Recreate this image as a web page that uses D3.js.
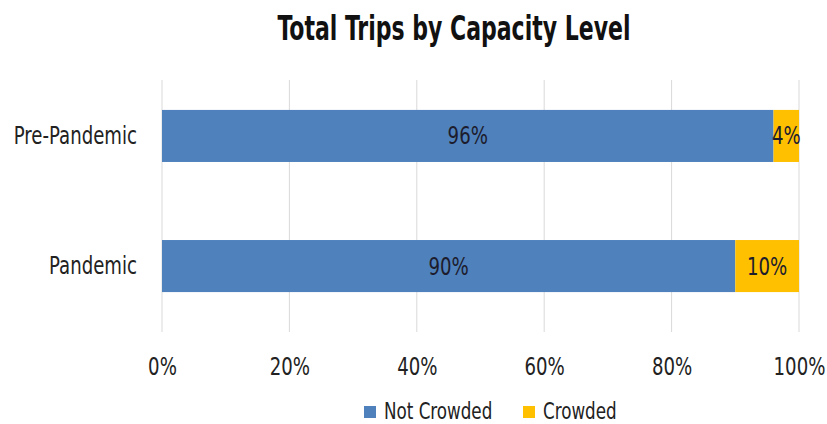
<!DOCTYPE html>
<html>
<head>
<meta charset="utf-8">
<script src="https://cdn.jsdelivr.net/npm/d3@7"></script>
<style>
  html, body { margin: 0; padding: 0; background: #fff; }
  svg text { font-family: "DejaVu Sans Condensed", "Liberation Sans Narrow", sans-serif; }
</style>
</head>
<body>
<svg id="chart" width="827" height="424"></svg>
<script>
// Share of trips by crowding level for each period
const categories = ["Pre-Pandemic", "Pandemic"];
const seriesNames = ["Not Crowded", "Crowded"];
const notCrowded = [96, 90];
const crowded = [4, 10];
const tickValues = [0, 20, 40, 60, 80, 100];
const colors = ["#4f81bd", "#ffc000"];

const W = 827, H = 424;
const FS = 24;          // label font size
const SX = 0.84;        // horizontal squeeze for a narrow look
const textColor = "#222";

const svg = d3.select("#chart");

const x = d3.scaleLinear().domain([0, 100]).range([162, 799]);
const y = d3.scaleBand().domain(categories).range([80, 322]).paddingInner(0.6).paddingOuter(0.23);
const gridTop = 80, gridBottom = 332;

// place a squeezed text at (px, py)
function squeezed(sel, px, py, s) {
  return sel.attr("x", 0).attr("y", 0).attr("transform", `translate(${px},${py}) scale(${s},1)`);
}

// Title
squeezed(svg.append("text"), 454, 40, 0.72)
  .attr("text-anchor", "middle")
  .attr("font-size", 34).attr("font-weight", "bold")
  .attr("fill", "#111")
  .text("Total Trips by Capacity Level");

// Vertical gridlines
svg.append("g").selectAll("line").data(tickValues).join("line")
  .attr("x1", d => x(d)).attr("x2", d => x(d))
  .attr("y1", gridTop).attr("y2", gridBottom)
  .attr("stroke", "#d9d9d9").attr("stroke-width", 1);

// X axis tick labels
const xAxis = d3.axisBottom(x).tickValues(tickValues).tickFormat(d => d + "%").tickSize(0).tickPadding(0);
const gx = svg.append("g").attr("transform", `translate(0,${gridBottom})`).call(xAxis);
gx.select(".domain").remove();
gx.selectAll("text")
  .attr("font-size", FS).attr("fill", textColor)
  .attr("font-family", null)
  .attr("y", 43).attr("dy", null)
  .attr("transform", `scale(${SX},1)`);

// Y axis category labels
const yPad = 25;
const yAxis = d3.axisLeft(y).tickSize(0).tickPadding(yPad);
const gy = svg.append("g").attr("transform", `translate(${x(0)},0)`).call(yAxis);
gy.select(".domain").remove();
gy.selectAll("text")
  .attr("font-size", FS).attr("fill", textColor)
  .attr("font-family", null)
  .attr("x", -yPad / SX)
  .attr("transform", `scale(${SX},1)`);

// Stacked bars
const rows = categories.map((c, i) => ({ cat: c, "Not Crowded": notCrowded[i], "Crowded": crowded[i] }));
const stacked = d3.stack().keys(seriesNames)(rows);

const layers = svg.append("g").selectAll("g").data(stacked).join("g")
  .attr("fill", (d, i) => colors[i]);

layers.selectAll("rect").data(d => d.map(v => ({ v, key: d.key }))).join("rect")
  .attr("x", d => x(d.v[0]))
  .attr("width", d => x(d.v[1]) - x(d.v[0]))
  .attr("y", d => y(d.v.data.cat))
  .attr("height", y.bandwidth());

// Value labels centered on each segment
layers.selectAll("text").data(d => d.map(v => ({ v, key: d.key }))).join("text")
  .each(function (d) {
    squeezed(d3.select(this),
      (x(d.v[0]) + x(d.v[1])) / 2,
      y(d.v.data.cat) + y.bandwidth() / 2 + 8.5, SX);
  })
  .attr("text-anchor", "middle")
  .attr("font-size", FS)
  .attr("fill", "#1c1c2c")
  .text(d => (d.v[1] - d.v[0]) + "%");

// Legend
const legendItems = [{ name: seriesNames[0], x0: 364 }, { name: seriesNames[1], x0: 523 }];
legendItems.forEach((it, i) => {
  svg.append("rect").attr("x", it.x0).attr("y", 406).attr("width", 12).attr("height", 12).attr("fill", colors[i]);
  squeezed(svg.append("text"), it.x0 + 20, 418.5, 0.81)
    .attr("font-size", 23).attr("fill", textColor).text(it.name);
});
</script>
</body>
</html>
